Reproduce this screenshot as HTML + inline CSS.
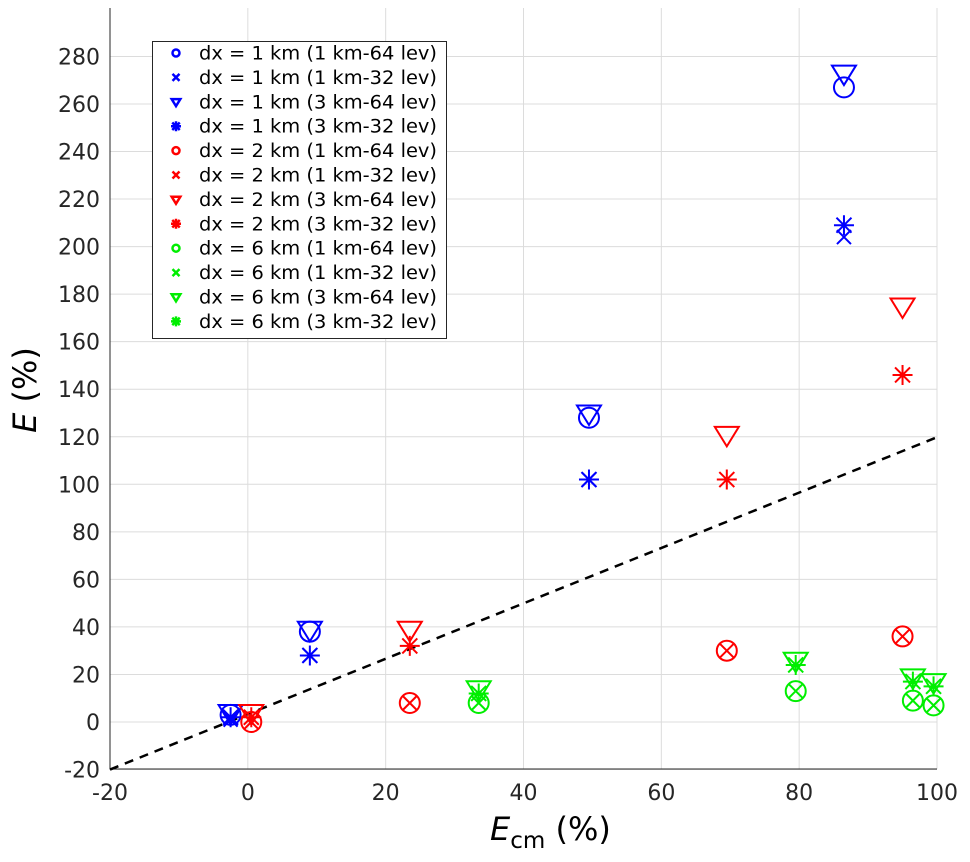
<!DOCTYPE html>
<html><head><meta charset="utf-8"><style>
body{margin:0;background:#fff;}
svg{display:block;font-family:"DejaVu Sans","Liberation Sans",sans-serif;}
</style></head><body>
<svg id="chart" width="970" height="862"></svg>
<script>
const xTicks=[-20,0,20,40,60,80,100];
const yTicks=[-20,0,20,40,60,80,100,120,140,160,180,200,220,240,260,280];
const blueX=[-2.5,9,49.5,86.5];
const blueCircle=[3,38,128,267];
const blueCross=[1,28,102,204];
const blueTri=[4,39,130,273];
const blueStar=[2,28,102,209];
const redX=[0.5,23.5,69.5,95];
const redCircle=[0,8,30,36];
const redCross=[0,8,30,36];
const redTri=[4,39,121,175];
const redStar=[2,32,102,146];
const greenX=[33.5,79.5,96.5,99.5];
const greenCircle=[8,13,9,7];
const greenCross=[8,13,9,7];
const greenTri=[14,26,19,17];
const greenStar=[12,24,17,15];
const fitLine=[1.165,3.3];
const legendLabels=["dx = 1 km (1 km-64 lev)","dx = 1 km (1 km-32 lev)","dx = 1 km (3 km-64 lev)","dx = 1 km (3 km-32 lev)","dx = 2 km (1 km-64 lev)","dx = 2 km (1 km-32 lev)","dx = 2 km (3 km-64 lev)","dx = 2 km (3 km-32 lev)","dx = 6 km (1 km-64 lev)","dx = 6 km (1 km-32 lev)","dx = 6 km (3 km-64 lev)","dx = 6 km (3 km-32 lev)"];

const NS="http://www.w3.org/2000/svg";
const svg=document.getElementById('chart');
const X=v=>110+(v+20)*827/120;
const Y=v=>722-v*2.377;
function mk(tag,attrs,parent){const e=document.createElementNS(NS,tag);for(const k in attrs)e.setAttribute(k,attrs[k]);(parent||svg).appendChild(e);return e;}

const grid=mk('g',{});


xTicks.forEach(t=>{const l=mk('line',{x1:X(t),x2:X(t),y1:8,y2:769,stroke:'#dcdcdc','stroke-width':1},grid);


const tx=mk('text',{x:X(t),y:800,'text-anchor':'middle','font-size':22,fill:'#262626'});tx.textContent=t;

});
yTicks.forEach(t=>{const l=mk('line',{x1:110,x2:937,y1:Y(t),y2:Y(t),stroke:'#dcdcdc','stroke-width':1},grid);


const tx=mk('text',{x:100,y:Y(t)+8,'text-anchor':'end','font-size':22,fill:'#262626'});tx.textContent=t;

});
const ax=mk('path',{d:'M110 8 V769 H937',fill:'none',stroke:'#262626','stroke-width':1});


const fl=mk('line',{x1:X(-20),y1:Y(fitLine[0]*-20+fitLine[1]),x2:X(100),y2:Y(fitLine[0]*100+fitLine[1]),stroke:'#000','stroke-width':2.5,'stroke-dasharray':'9,7'});



function marker(type,cx,cy,c,s,g,w){
 w=w||2;
 if(type==='o'){mk('circle',{cx,cy,r:s,fill:'none',stroke:c,'stroke-width':w},g);}
 else if(type==='x'){const d=s*0.7;mk('path',{d:`M${cx-d} ${cy-d}L${cx+d} ${cy+d}M${cx-d} ${cy+d}L${cx+d} ${cy-d}`,stroke:c,'stroke-width':w},g);}
 else if(type==='v'){mk('path',{d:`M${cx-s*1.2} ${cy-s*0.75}H${cx+s*1.2}L${cx} ${cy+s*1.2}Z`,fill:'none',stroke:c,'stroke-width':w},g);}
 else {const d=s*0.75;mk('path',{d:`M${cx} ${cy-s}V${cy+s}M${cx-s} ${cy}H${cx+s}M${cx-d} ${cy-d}L${cx+d} ${cy+d}M${cx-d} ${cy+d}L${cx+d} ${cy-d}`,stroke:c,'stroke-width':w},g);}
}
const series=[
['blue-circle','o','#0000ff',blueX,blueCircle],['blue-cross','x','#0000ff',blueX,blueCross],['blue-triangle','v','#0000ff',blueX,blueTri],['blue-asterisk','*','#0000ff',blueX,blueStar],
['red-circle','o','#ff0000',redX,redCircle],['red-cross','x','#ff0000',redX,redCross],['red-triangle','v','#ff0000',redX,redTri],['red-asterisk','*','#ff0000',redX,redStar],
['green-circle','o','#00ee00',greenX,greenCircle],['green-cross','x','#00ee00',greenX,greenCross],['green-triangle','v','#00ee00',greenX,greenTri],['green-asterisk','*','#00ee00',greenX,greenStar]];
series.forEach(s=>{const g=mk('g',{});


s[3].forEach((xv,i)=>{const p=mk('g',{},g);


marker(s[1],X(xv),Y(s[4][i]),s[2],10,p);});});

const lg=mk('g',{});


mk('rect',{x:152.5,y:41.5,width:294,height:297,fill:'#fff',stroke:'#262626','stroke-width':1},lg);
legendLabels.forEach((t,i)=>{const y=53+i*24.4;const e=mk('g',{},lg);


const s=series[i][1]==='o'?3.5:(series[i][1]==='v'?3.6:5);
marker(series[i][1],176,y,series[i][2],s,e,2.5);
const tx=mk('text',{x:199,y:y+6.5,'font-size':18.5,fill:'#000',textLength:238,lengthAdjust:'spacingAndGlyphs'},e);tx.textContent=t;});

const yl=mk('text',{x:36,y:390,'text-anchor':'middle','font-size':32,fill:'#000',transform:'rotate(-90 36 390)'});
yl.innerHTML='<tspan font-style="italic">E</tspan> (%)';


const xl=mk('text',{x:490,y:840,'font-size':32,fill:'#000'});
xl.innerHTML='<tspan font-style="italic">E</tspan><tspan font-size="23" dy="8">cm</tspan><tspan dy="-8"> (%)</tspan>';


</script>
</body></html>
